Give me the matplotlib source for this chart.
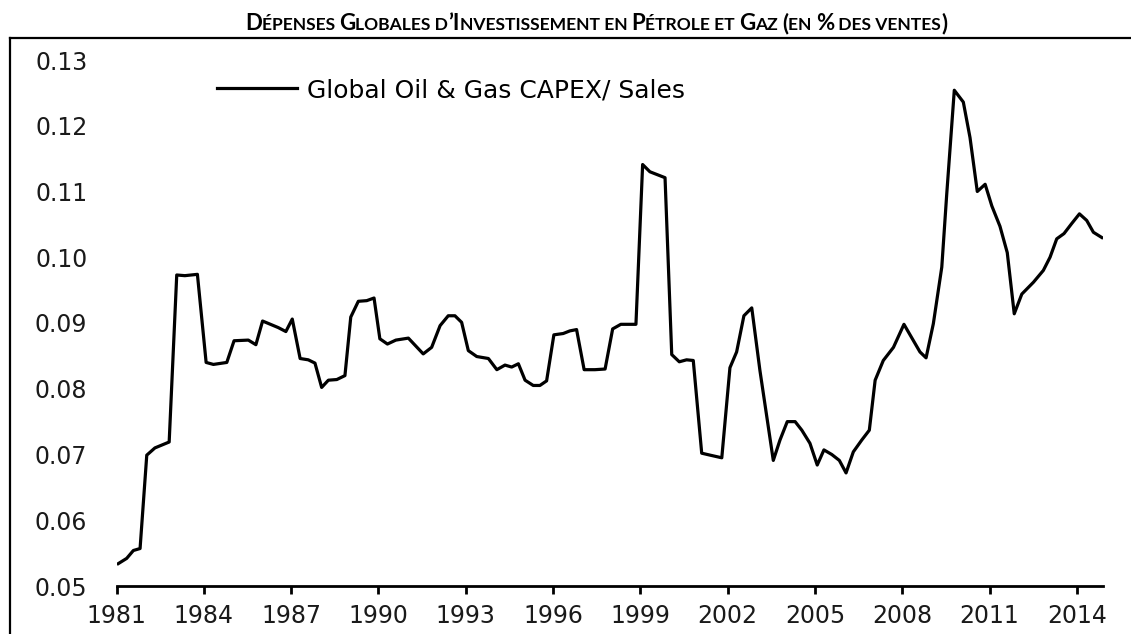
import matplotlib
matplotlib.use('Agg')
import matplotlib.pyplot as plt
from matplotlib.lines import Line2D

# ── Données (année décimale, ratio CAPEX / ventes) ──
YEARS = [1981.06, 1981.35, 1981.58, 1981.81, 1982.04, 1982.32, 1982.81, 1983.07,
         1983.35, 1983.78, 1984.08, 1984.33, 1984.79, 1985.04, 1985.53, 1985.79,
         1986.02, 1986.56, 1986.82, 1987.04, 1987.31, 1987.59, 1987.82, 1988.05,
         1988.28, 1988.57, 1988.85, 1989.05, 1989.31, 1989.60, 1989.85, 1990.05,
         1990.31, 1990.60, 1991.03, 1991.54, 1991.83, 1992.12, 1992.40, 1992.63,
         1992.86, 1993.09, 1993.38, 1993.78, 1994.07, 1994.35, 1994.58, 1994.81,
         1995.04, 1995.32, 1995.55, 1995.78, 1996.03, 1996.35, 1996.58, 1996.81,
         1997.07, 1997.44, 1997.79, 1998.05, 1998.33, 1998.59, 1998.85, 1999.08,
         1999.33, 1999.85, 2000.08, 2000.34, 2000.59, 2000.82, 2001.11, 2001.40,
         2001.80, 2002.08, 2002.31, 2002.56, 2002.83, 2003.11, 2003.57, 2003.80,
         2004.05, 2004.32, 2004.55, 2004.83, 2005.08, 2005.31, 2005.58, 2005.84,
         2006.07, 2006.32, 2006.61, 2006.87, 2007.07, 2007.35, 2007.70, 2008.06,
         2008.61, 2008.82, 2009.07, 2009.36, 2009.53, 2009.79, 2010.10, 2010.33,
         2010.58, 2010.85, 2011.08, 2011.36, 2011.61, 2011.85, 2012.11, 2012.51,
         2012.85, 2013.08, 2013.31, 2013.56, 2013.82, 2014.09, 2014.34, 2014.57,
         2014.86]
CAPEX_SALES = [0.0534, 0.0542, 0.0554, 0.0557, 0.0699, 0.0710, 0.0719, 0.0973,
               0.0972, 0.0974, 0.0840, 0.0837, 0.0840, 0.0873, 0.0874, 0.0867,
               0.0903, 0.0893, 0.0887, 0.0906, 0.0846, 0.0844, 0.0839, 0.0802,
               0.0813, 0.0814, 0.0820, 0.0909, 0.0933, 0.0934, 0.0938, 0.0876,
               0.0868, 0.0874, 0.0877, 0.0853, 0.0863, 0.0896, 0.0911, 0.0911,
               0.0901, 0.0858, 0.0849, 0.0846, 0.0829, 0.0836, 0.0833, 0.0838,
               0.0813, 0.0805, 0.0805, 0.0812, 0.0882, 0.0884, 0.0888, 0.0890,
               0.0829, 0.0829, 0.0830, 0.0891, 0.0898, 0.0898, 0.0898, 0.1141,
               0.1130, 0.1121, 0.0852, 0.0841, 0.0844, 0.0843, 0.0702, 0.0699,
               0.0695, 0.0832, 0.0856, 0.0911, 0.0923, 0.0828, 0.0691, 0.0722,
               0.0750, 0.0750, 0.0737, 0.0717, 0.0684, 0.0707, 0.0700, 0.0691,
               0.0672, 0.0704, 0.0722, 0.0737, 0.0813, 0.0843, 0.0863, 0.0898,
               0.0856, 0.0847, 0.0899, 0.0985, 0.1096, 0.1254, 0.1236, 0.1182,
               0.1100, 0.1111, 0.1078, 0.1047, 0.1007, 0.0914, 0.0944, 0.0962,
               0.0980, 0.1000, 0.1028, 0.1036, 0.1051, 0.1066, 0.1056, 0.1038,
               0.1030]

X_TICKS = [1981, 1984, 1987, 1990, 1993, 1996, 1999, 2002, 2005, 2008, 2011, 2014]
Y_TICKS = [0.05, 0.06, 0.07, 0.08, 0.09, 0.10, 0.11, 0.12, 0.13]
SERIES_LABEL = 'Global Oil & Gas CAPEX/ Sales'

# titre en petites capitales : (texte, majuscule ?)
TITLE_PARTS = [('D', True), ('ÉPENSES ', False), ('G', True), ('LOBALES D', False),
               ('’I', True), ('NVESTISSEMENT EN ', False), ('P', True),
               ('ÉTROLE ET ', False), ('G', True), ('AZ ', False), ('(', True),
               ('EN ', False), ('%', True), (' DES VENTES', False), (')', True)]

W, H = 1131, 634
fig = plt.figure(figsize=(W / 100, H / 100), dpi=100)
fig.patch.set_facecolor('white')

# ── Cadre de la diapositive ──────────────────────────────────────────────────
fig.add_artist(Line2D([10 / W, 1.0], [1 - 38 / H, 1 - 38 / H], color='black', lw=1.6))
fig.add_artist(Line2D([10 / W, 10 / W], [0.0, 1 - 38 / H], color='black', lw=1.6))

# ── Zone du graphique ────────────────────────────────────────────────────────
x0, x1 = 116.5, 1103.0
y0, y1 = 586.0, 60.0
ax = fig.add_axes([x0 / W, 1 - y0 / H, (x1 - x0) / W, (y0 - y1) / H])
ax.plot(YEARS, CAPEX_SALES, color='black', lw=2.3, label=SERIES_LABEL)
ax.set_xlim(1981, 2014.9)
ax.set_ylim(0.05, 0.13)

ax.set_xticks(X_TICKS)
ax.set_yticks(Y_TICKS)
ax.set_yticklabels([f'{v:.2f}' for v in Y_TICKS])
for sp in ('top', 'right', 'left'):
    ax.spines[sp].set_visible(False)
ax.spines['bottom'].set_linewidth(2.0)
ax.tick_params(axis='x', direction='out', length=6, width=2.0, pad=7,
               labelsize=17, labelcolor='#1a1a1a')
ax.tick_params(axis='y', length=0, pad=21, labelsize=17, labelcolor='#1a1a1a')

leg = ax.legend(loc='center left', bbox_to_anchor=(217 / W, 1 - 90 / H),
                bbox_transform=fig.transFigure, frameon=False, borderpad=0,
                borderaxespad=0, handlelength=3.2, handletextpad=0.4,
                prop={'size': 18})

# ── Titre en petites capitales ───────────────────────────────────────────────
renderer = fig.canvas.get_renderer()
big, small = 16.0, 12.6
pieces = []
total = 0.0
for s, cap in TITLE_PARTS:
    t = fig.text(0, 0, s, fontsize=big if cap else small, fontweight='bold',
                 family='Lato', va='baseline', ha='left')
    w = t.get_window_extent(renderer).width
    pieces.append((t, w))
    total += w
xc = 596.0 - total / 2
for t, w in pieces:
    t.set_position((xc / W, 1 - 30 / H))
    xc += w

fig.savefig('out.png', dpi=100, facecolor='white')
